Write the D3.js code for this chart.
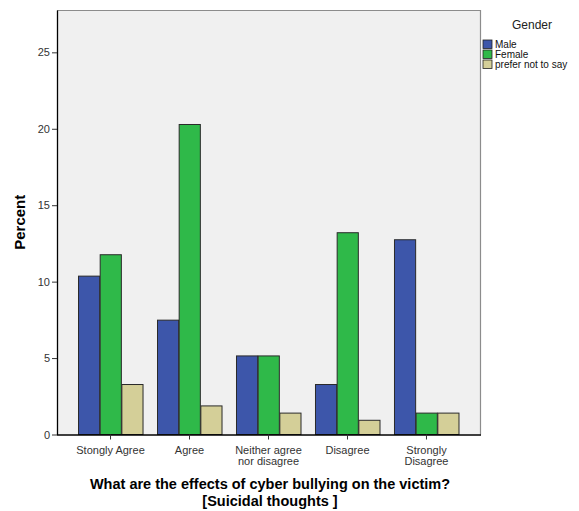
<!DOCTYPE html>
<html><head><meta charset="utf-8">
<script src="https://cdn.jsdelivr.net/npm/d3@7"></script>
<style>body{margin:0;background:#fff;font-family:"Liberation Sans",Arial,sans-serif}</style>
</head><body><svg id="c" width="579" height="511"></svg>
<script>
const categories = [["Stongly Agree"],["Agree"],["Neither agree","nor disagree"],["Disagree"],["Strongly","Disagree"]];
const seriesNames = ["Male","Female","prefer not to say"];
const male   = [10.36, 7.48, 5.14, 3.27, 12.74];
const female = [11.76, 20.28, 5.14, 13.2, 1.40];
const prefer = [3.27, 1.87, 1.40, 0.93, 1.40];
const yTicks = [0,5,10,15,20,25];
const colors = ["#3d56aa","#2fb949","#d4cf98"];

const svg = d3.select("#c");
const L=57, R=480, T=10, B=434.5;
const catKeys = categories.map(c=>c.join(" "));
const x = d3.scaleBand().domain(catKeys).range([L,R]).paddingInner(0.177).paddingOuter(0.266);
const xs = d3.scaleBand().domain(seriesNames).range([0,x.bandwidth()]);
const y = d3.scaleLinear().domain([0,27.77]).range([B,T]);

svg.append("rect").attr("x",L).attr("y",T).attr("width",R-L).attr("height",B-T).attr("fill","#f0f0f0");
svg.append("path").attr("d",`M${L},${T+0.5}H${R+0.5}V${B}`).attr("fill","none").attr("stroke","#8c8c8c").attr("stroke-width",1.2);

const series=[male,female,prefer];
series.forEach((vals,si)=>{
  svg.append("g").selectAll("rect").data(vals).join("rect")
    .attr("x",(d,i)=>x(catKeys[i])+xs(seriesNames[si])+0.5)
    .attr("y",d=>y(d))
    .attr("width",xs.bandwidth()-0.5)
    .attr("height",d=>B-y(d))
    .attr("fill",colors[si]).attr("stroke","#2a2a2a").attr("stroke-width",1);
});

const ya = d3.axisLeft(y).tickValues(yTicks).tickSize(5).tickSizeOuter(0).tickPadding(2);
const gy = svg.append("g").attr("transform",`translate(${L},0)`).call(ya);
gy.select(".domain").attr("stroke","#000").attr("stroke-width",1.3);
gy.selectAll(".tick line").attr("stroke","#333");
gy.selectAll("text").attr("font-size",11).attr("fill","#333").attr("font-family","Liberation Sans, Arial");

const xa = d3.axisBottom(x).tickSize(5).tickSizeOuter(0).tickFormat(()=> "");
const gx = svg.append("g").attr("transform",`translate(0,${B})`).call(xa);
gx.select(".domain").attr("d",`M${L},0.5H${R+1}`).attr("stroke","#000").attr("stroke-width",1.3);
gx.selectAll(".tick line").attr("stroke","#333");
gx.selectAll(".tick").each(function(d,i){
  const t=d3.select(this).append("text").attr("fill","#333").attr("font-size",11).attr("text-anchor","middle").attr("font-family","Liberation Sans, Arial");
  categories[i].forEach((s,j)=>t.append("tspan").attr("x",0).attr("y",19.5+j*11).text(s));
});

svg.append("text").attr("transform",`translate(25,${(T+B)/2}) rotate(-90)`).attr("text-anchor","middle")
  .attr("font-size",15).attr("font-weight","bold").attr("fill","#000").text("Percent");

const title=svg.append("text").attr("text-anchor","middle").attr("font-size",14.5).attr("font-weight","bold").attr("fill","#000");
title.append("tspan").attr("x",270).attr("y",489).text("What are the effects of cyber bullying on the victim?");
title.append("tspan").attr("x",270).attr("y",505.5).text("[Suicidal thoughts ]");

svg.append("text").attr("x",532).attr("y",29).attr("text-anchor","middle").attr("font-size",12).attr("fill","#222").text("Gender");
const lg = svg.append("g").selectAll("g").data(seriesNames).join("g").attr("transform",(d,i)=>`translate(483,${40+i*10})`);
lg.append("rect").attr("width",9).attr("height",8.5).attr("fill",(d,i)=>colors[i]).attr("stroke","#222").attr("stroke-width",0.8);
lg.append("text").attr("x",12).attr("y",8.3).attr("font-size",10).attr("fill","#111").text(d=>d);
</script></body></html>
